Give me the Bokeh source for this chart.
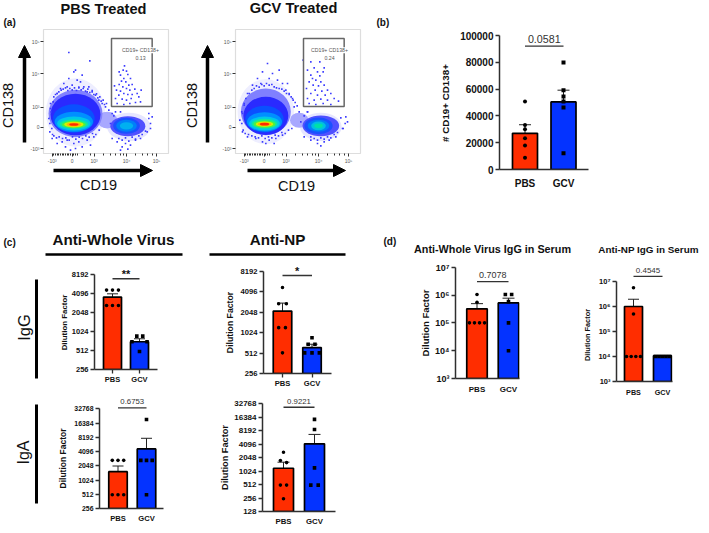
import math
from bokeh.embed import file_html
from bokeh.resources import INLINE
from bokeh.core.properties import value
from bokeh.models import (Range1d, FixedTicker, Whisker, TeeHead, ColumnDataSource,
                          Arrow, NormalHead, Pane)
from bokeh.plotting import figure

FONT = "Liberation Sans"
RED = "#FF2D00"
BLUE = "#0433FF"
DARK = "#2f2f2f"

groups = ["PBS", "GCV"]

# (b) number of CD19+ CD138+ cells
b_means = [27000, 50400]
b_lo = [21000, 41300]
b_hi = [33400, 59200]
b_pbs = [50700, 33300, 30000, 23400, 17900, 8700]
b_pbs_dx = [0, 0, 0, 0, 0, 0]
b_gcv = [79900, 59200, 54500, 50700, 46300, 12200]
b_gcv_dx = [0, 0, 0, 0, 0, 0]
b_ticks = [0, 20000, 40000, 60000, 80000, 100000]

# (c) IgG / IgA dilution factors
c1_means = [3620, 707]
c1_lo = [3195, 640]
c1_hi = [4085, 788]
c1_pbs = [4680, 4680, 4680, 2663, 2663, 2663]
c1_pbs_dx = [-0.22, 0, 0.22, -0.22, 0, 0.22]
c1_gcv = [868, 868, 707, 707, 496]
c1_gcv_dx = [-0.1, 0.12, -0.28, 0.28, 0]
c2_means = [2125, 617]
c2_lo = [1510, 551]
c2_hi = [2780, 690]
c2_pbs = [4720, 2720, 2720, 1210, 1210, 515]
c2_pbs_dx = [0, -0.13, 0.13, -0.13, 0.1, 0]
c2_gcv = [860, 690, 690, 515, 515, 515]
c2_gcv_dx = [0, -0.13, 0.1, -0.25, 0, 0.25]
c3_means = [1533, 4640]
c3_lo = [1130, 1665]
c3_hi = [2025, 7800]
c3_pbs = [2665, 2665, 2665, 500, 500, 500]
c3_pbs_dx = [-0.2, 0, 0.2, -0.2, 0, 0.2]
c3_gcv = [19400, 2665, 2665, 2665, 500]
c3_gcv_dx = [0, -0.2, 0, 0.2, 0]
c4_means = [1178, 4130]
c4_lo = [830, 1780]
c4_hi = [1610, 6700]
c4_pbs = [2680, 1750, 1576, 497, 497, 246]
c4_pbs_dx = [0, -0.1, 0.1, -0.1, 0.1, 0]
c4_gcv = [14500, 8650, 1200, 497, 497]
c4_gcv_dx = [0, 0, 0, -0.12, 0.12]
igg_ticks = [256, 512, 1024, 2048, 4096, 8192]
iga_ticks = [256, 512, 1024, 2048, 4096, 8192, 16384, 32768]
iga_np_ticks = [128, 256, 512, 1024, 2048, 4096, 8192, 16384, 32768]

# (d) serum IgG
d1_means = [320000, 520000]
d1_lo = [178000, 340000]
d1_hi = [490000, 770000]
d1_pbs = [1050000, 550000, 100000, 100000, 100000, 100000]
d1_pbs_dx = [0, 0, -0.24, -0.08, 0.08, 0.24]
d1_gcv = [1050000, 1050000, 580000, 100000, 10000]
d1_gcv_dx = [-0.1, 0.1, 0, 0, 0]
d2_means = [1000000, 10800]
d2_lo = [107000, 10800]
d2_hi = [1950000, 10800]
d2_pbs = [5600000, 500000, 10000, 10000, 10000, 10000]
d2_pbs_dx = [0, 0, -0.24, -0.08, 0.08, 0.24]
d2_gcv = [10000, 10000, 10000, 10000, 10000]
d2_gcv_dx = [-0.24, -0.12, 0, 0.12, 0.24]
d_ticks = [1000, 10000, 100000, 1000000, 10000000]
d_labels = {1000: "10³", 10000: "10⁴", 100000: "10⁵", 1000000: "10⁶", 10000000: "10⁷"}

# significance labels
sig_labels = ["0.0581", "**", "*", "0.6753", "0.9221", "0.7078", "0.4545"]
sig_levels = [92000, 7090, 7080, 34300, 27000, 3050000, 16000000]

# (a) flow plots: density levels (centre x, centre y, width, height, colour)
flow_ticks_x = [35, 95, 161, 258, 348]
flow_ticks_y = [24, 88, 148, 248, 345]
flow_tick_labels_x = ["-10³", "0", "10³", "10⁴", "10⁵"]
flow_tick_labels_y = ["-10³", "0", "10³", "10⁴", "10⁵"]
flow_minor = [40, 45, 50, 55, 60, 65, 70, 75, 80, 85, 90, 100, 105, 110, 130, 150, 190, 210, 225, 240, 250, 285, 305, 320, 335]

pbs_cx = [105, 265, 200, 105, 105, 100, 100, 100, 100, 100, 100, 100, 262, 258, 258, 258]
pbs_cy = [132, 89, 109, 129, 126, 114, 104, 99, 97, 96, 96, 96, 91, 92, 92, 92]
pbs_w = [178, 130, 60, 162, 150, 125, 115, 100, 85, 72, 58, 44, 105, 80, 62, 40]
pbs_h = [205, 85, 50, 142, 125, 85, 60, 42, 28, 22, 16, 12, 60, 48, 36, 22]
pbs_c = ["#eeeeff", "#e6e6ff", "#a8a8ff", "#8080ff", "#2a2aff", "#0a50ff", "#0090ff", "#00c8e8",
         "#10e8a0", "#50f040", "#d8f000", "#ffb000", "#5050ff", "#1a50ff", "#0080f8", "#00b0f0"]
pbs_r = (100, 96, 28, 8)

gcv_cx = [100, 265, 200, 100, 100, 96, 96, 96, 96, 96, 96, 96, 265, 258, 258, 258, 258]
gcv_cy = [134, 89, 109, 134, 122, 112, 104, 99, 98, 97, 97, 97, 92, 92, 92, 92, 92]
gcv_w = [170, 125, 55, 150, 135, 115, 105, 92, 78, 66, 52, 40, 110, 85, 65, 44, 26]
gcv_h = [195, 85, 45, 140, 115, 80, 58, 42, 30, 22, 16, 11, 62, 50, 36, 26, 14]
gcv_c = ["#eeeeff", "#e6e6ff", "#a8a8ff", "#8080ff", "#2a2aff", "#0a50ff", "#0090ff", "#00c8e8",
         "#10e8a0", "#50f040", "#d8f000", "#ffb000", "#5050ff", "#1a50ff", "#0080f8", "#00c0e0", "#00e0a8"]
gcv_r = (96, 97, 28, 8)

pbs_dot_x = [252,248,258,240,262,250,270,243,256,236,265,275,247,258,228,240,268,283,250,262,235,275,290,225,245,258,272,295,302,230,250,268,285,300,236,222,148,85,
             70,85,100,110,120,130,95,60,145,155,165,105,80,50,125,115,140,175,185,195,205,38,30,25,28,35,50,65,75,90,100,115,125,140,150,160,80,105,215,230,245,255,270,285,300,240,262,320,330,335,325,240,215,
             55,62,68,75,82,88,95,102,108,115,122,128,135,142,148,155,160,168,172,178,182,188,192,198,40,45,50,30,32,28,34,36,40,48,56,66,76,86,96,106,116,126,136,146,156,166,176,210,220,225,235,245,255,265,275,285,295,305,315,325,330]
pbs_dot_z = [112,125,128,140,138,150,150,158,160,168,170,168,175,180,185,188,185,182,195,198,200,198,195,210,212,215,210,205,185,225,228,225,222,220,130,172,97,72,
             165,150,130,155,160,175,170,180,175,190,200,125,175,195,140,178,190,215,225,235,245,220,240,270,310,330,345,340,355,365,345,340,355,335,350,325,335,360,330,340,355,345,350,335,330,365,362,310,285,265,255,250,255,
             190,185,182,178,186,180,184,178,186,176,184,180,188,182,192,186,198,196,208,205,218,215,228,225,205,198,195,225,250,285,300,318,322,328,325,330,328,335,325,332,326,330,322,326,315,318,305,285,262,250,330,335,328,338,326,332,322,318,308,270,300]
gcv_dot_x = [235,262,275,245,225,255,235,262,272,250,265,230,242,258,275,222,248,268,285,235,255,278,295,225,245,265,285,305,230,250,272,295,318,240,212,
             105,140,90,75,120,110,135,60,150,165,85,45,160,170,180,35,28,22,30,45,70,90,110,130,150,185,200,215,235,255,275,290,310,330,345,340,225,100,125,265,
             50,58,65,72,80,88,95,102,110,118,125,132,140,148,155,162,170,176,182,188,194,40,35,30,28,32,38,48,58,68,78,88,98,108,118,128,138,148,158,168,178,205,215,225,235,245,255,265,275,285,295,305,315,325,332,338]
gcv_dot_z = [100,100,118,118,125,130,140,142,130,155,160,160,170,172,170,180,185,188,185,195,200,200,195,210,215,212,215,210,225,228,225,228,218,150,95,
             105,125,130,150,135,150,155,170,165,165,165,195,185,195,210,225,250,275,310,325,330,340,335,330,320,235,250,325,335,345,340,335,325,300,280,265,250,345,345,352,
             195,185,180,172,176,168,172,165,170,168,175,178,180,182,188,195,198,205,215,222,232,210,230,255,285,305,315,318,322,325,328,322,330,325,328,320,322,312,315,305,300,280,262,250,325,330,335,328,332,325,328,318,312,268,300,285]


def style_text(size, bold=True, color="#111111"):
    return dict(text_font=value(FONT), text_font_size=f"{size}px",
                text_font_style="bold" if bold else "normal", text_color=color)


children = []

# full page annotation layer, in page pixels
ann = figure(width=709, height=533, x_range=Range1d(0, 709), y_range=Range1d(533, 0),
             output_backend="svg", toolbar_location=None, min_border=0,
             background_fill_color=None, border_fill_color=None, outline_line_color=None,
             styles={"position": "absolute", "left": "0px", "top": "0px"})
ann.axis.visible = False
ann.grid.visible = False


def label(x, y, s, size, bold=True, angle=0.0, align="center"):
    ann.text([x], [y], text=[s], angle=angle, text_align=align, text_baseline="middle",
             **style_text(size, bold))


def rule(x0, y0, x1, y1, w):
    ann.line([x0, x1], [y0, y1], line_color="black", line_width=w)


def arrow(x0, y0, x1, y1):
    ann.add_layout(Arrow(x_start=x0, y_start=y0, x_end=x1, y_end=y1, line_width=3.5, line_color="black",
                         end=NormalHead(size=12, fill_color="black", line_color="black", line_width=1)))


label(103, 8, "PBS Treated", 14.6)
label(293, 7, "GCV Treated", 14.6)
label(3, 22, "(a)", 10, align="left")
label(376, 22, "(b)", 10, align="left")
label(3, 242, "(c)", 10, align="left")
label(383, 241, "(d)", 10, align="left")
label(7, 105, "CD138", 14.5, bold=False, angle=math.pi / 2)
label(191, 105, "CD138", 14.5, bold=False, angle=math.pi / 2)
label(98, 184, "CD19", 14.5, bold=False)
label(296, 185, "CD19", 14.5, bold=False)
arrow(24, 142, 24, 45)
arrow(207, 142, 207, 45)
arrow(53, 170, 152, 170)
arrow(247, 170, 345, 170)
label(113, 239, "Anti-Whole Virus", 15.2)
label(277, 239, "Anti-NP", 15.2)
rule(45, 254, 182, 254, 2.6)
rule(209, 254, 345, 254, 2.6)
rule(36, 279, 36, 378, 3)
rule(36, 404, 36, 503, 3)
label(23, 327, "IgG", 16.5, bold=False, angle=math.pi / 2)
label(23, 452, "IgA", 16, bold=False, angle=math.pi / 2)
label(492, 248, "Anti-Whole Virus IgG in Serum", 10.8)
label(648, 249, "Anti-NP IgG in Serum", 9.9)
children.append(ann)


def flow_panel(xleft, xs, ys, ws, hs, cs, red, dx, dz, gate_pct, tx):
    ml, mb, mt, mr = 22, 16, 2, 2
    fw, fh = 125, 124
    p = figure(width=ml + fw + mr, height=mt + fh + mb, x_range=Range1d(9, 384), y_range=Range1d(9, 381),
               output_backend="svg", toolbar_location=None, min_border_left=ml, min_border_right=mr,
               min_border_top=mt, min_border_bottom=mb, background_fill_color="white",
               border_fill_color=None, outline_line_color="#dddddd", outline_line_width=1.2,
               styles={"position": "absolute", "left": f"{xleft - ml}px", "top": f"{29 - mt}px"})
    p.grid.visible = False
    p.ellipse(x=xs, y=ys, width=ws, height=hs, fill_color=cs, line_color=None)
    p.ellipse(x=[red[0]], y=[red[1]], width=[red[2]], height=[red[3]], fill_color="#ff2a00", line_color=None)
    p.scatter(dx, [384 - v for v in dz], size=1.6, marker="square",
              fill_color="#3a3aff", line_color=None)
    p.quad(left=[213], right=[335], top=[354], bottom=[150], fill_color=None, line_color="#666666", line_width=1.5)
    p.text([tx], [319], text=["CD19+ CD138+"], text_align="center", text_baseline="middle",
           background_fill_color="white", **style_text(5.2, False, "#555555"))
    p.text([tx], [296], text=[gate_pct], text_align="center", text_baseline="middle",
           **style_text(5.2, False, "#555555"))
    for ax, ticks, labels in ((p.xaxis[0], flow_ticks_x, flow_tick_labels_x),
                              (p.yaxis[0], flow_ticks_y, flow_tick_labels_y)):
        ax.ticker = FixedTicker(ticks=ticks, minor_ticks=flow_minor if ax is p.xaxis[0] else [])
        ax.major_label_overrides = dict(zip(ticks, labels))
        ax.major_label_text_font = FONT
        ax.major_label_text_font_size = "5px"
        ax.major_label_text_color = "#555555"
        ax.axis_line_color = None
        ax.major_tick_line_color = "#333333"
        ax.minor_tick_line_color = "#333333"
        ax.major_tick_in = 0
        ax.minor_tick_in = 0
        ax.major_tick_out = 3
        ax.minor_tick_out = 2
        ax.major_label_standoff = 1
    children.append(p)


flow_panel(43, pbs_cx, pbs_cy, pbs_w, pbs_h, pbs_c, pbs_r, pbs_dot_x, pbs_dot_z, "0.13", 300)
flow_panel(235, gcv_cx, gcv_cy, gcv_w, gcv_h, gcv_c, gcv_r, gcv_dot_x, gcv_dot_z, "0.24", 291)


def bar_panel(x_axis, x_right, y_bot, y_tick, frame_top, vmin, vmax, log, c1, c2, bar_w, ticks,
              means, lo, hi, pbs, pbs_dx, gcv, gcv_dx, sig, sig_y, sig_size, sig_bold,
              tick_size, xtick_size, ylabel, ylabel_size, ylabel_xy, xstandoff, overrides,
              cap=13, dot=3.6, bar_lw=1.7, xtick_out=0):
    ml, mr, mb, mt = 70, 2, 24, 0
    fw, fh = x_right - x_axis, y_bot - frame_top
    unit = c2 - c1
    xr = Range1d(1 - (c1 - x_axis) / unit, 1 + (x_right - c1) / unit)
    if log:
        s = (math.log(vmax) - math.log(vmin)) / (y_bot - y_tick)
        top = math.exp(math.log(vmin) + s * fh)
    else:
        top = vmin + (vmax - vmin) / (y_bot - y_tick) * fh
    p = figure(width=ml + fw + mr, height=mt + fh + mb, x_range=xr, y_range=Range1d(vmin, top),
               y_axis_type="log" if log else "linear", output_backend="svg", toolbar_location=None,
               min_border_left=ml, min_border_right=mr, min_border_top=mt, min_border_bottom=mb,
               background_fill_color=None, border_fill_color=None, outline_line_color=None,
               styles={"position": "absolute", "left": f"{x_axis - ml}px", "top": f"{frame_top - mt}px"})
    p.grid.visible = False
    w = bar_w / unit
    p.vbar(x=[1], top=[means[0]], bottom=vmin, width=w, fill_color=RED, line_color="black", line_width=bar_lw)
    p.vbar(x=[2], top=[means[1]], bottom=vmin, width=w, fill_color=BLUE, line_color="black", line_width=bar_lw)
    src = ColumnDataSource(dict(x=[1, 2], lo=lo, hi=hi))
    p.add_layout(Whisker(base="x", lower="lo", upper="hi", source=src, line_color="#222222", line_width=1,
                         upper_head=TeeHead(size=cap, line_color="#222222", line_width=1),
                         lower_head=TeeHead(size=cap, line_color="#222222", line_width=1)))
    p.scatter([1 + d for d in pbs_dx], pbs, marker="circle", size=dot, fill_color="black", line_color=None)
    p.scatter([2 + d for d in gcv_dx], gcv, marker="square", size=dot, fill_color="black", line_color=None)
    p.line([1, 2], [sig_y, sig_y], line_color="#333333", line_width=1.3)
    p.text([1.5], [sig_y], text=[sig], y_offset=1 if sig_bold else -3.5, text_align="center", text_baseline="bottom",
           **style_text(sig_size, sig_bold, "#333333" if not sig_bold else "#111111"))
    yax, xax = p.yaxis[0], p.xaxis[0]
    yax.ticker = FixedTicker(ticks=ticks)
    yax.bounds = (vmin, vmax)
    if overrides:
        yax.major_label_overrides = overrides
    elif log:
        yax.major_label_overrides = {t: str(t) for t in ticks}
    else:
        yax.formatter.use_scientific = False
    xax.ticker = FixedTicker(ticks=[1, 2])
    xax.major_label_overrides = {1: groups[0], 2: groups[1]}
    for ax in (xax, yax):
        ax.axis_line_color = DARK
        ax.axis_line_width = 1.5
        ax.major_tick_line_color = DARK
        ax.major_tick_line_width = 1.3
        ax.major_tick_in = 0
        ax.major_tick_out = 4
        ax.minor_tick_line_color = None
        ax.major_label_text_font = FONT
        ax.major_label_text_font_style = "bold"
        ax.major_label_text_color = "#111111"
    xax.major_tick_out = xtick_out
    if not xtick_out:
        xax.major_tick_line_color = None
    yax.major_label_text_font_size = f"{tick_size}px"
    xax.major_label_text_font_size = f"{xtick_size}px"
    yax.major_label_standoff = 2
    xax.major_label_standoff = xstandoff
    label(ylabel_xy[0], ylabel_xy[1], ylabel, ylabel_size, angle=math.pi / 2)
    children.append(p)


DF = "Dilution Factor"
bar_panel(499, 588, 169, 35, 20, 0, 100000, False, 524.5, 563, 25, b_ticks,
          b_means, b_lo, b_hi, b_pbs, b_pbs_dx, b_gcv, b_gcv_dx, sig_labels[0], sig_levels[0], 10.7, False,
          10, 10, "# CD19+ CD138+", 9.8, (445, 102.5), 8, None, cap=12, dot=4)
bar_panel(94, 157, 369, 274.3, 262, 256, 8192, True, 112, 139, 18, igg_ticks,
          c1_means, c1_lo, c1_hi, c1_pbs, c1_pbs_dx, c1_gcv, c1_gcv_dx, sig_labels[1], sig_levels[1], 11, True,
          7.5, 7.5, DF, 7.9, (64, 322), 1, None, cap=11, xtick_out=4)
bar_panel(263, 331, 373, 270.7, 258, 256, 8192, True, 282, 311.5, 18.5, igg_ticks,
          c2_means, c2_lo, c2_hi, c2_pbs, c2_pbs_dx, c2_gcv, c2_gcv_dx, sig_labels[2], sig_levels[2], 11, True,
          7.6, 7.6, DF, 8.7, (229, 322), 1, None, cap=11, xtick_out=4)
bar_panel(99, 163, 508, 408.3, 392, 256, 32768, True, 117.5, 146, 18.5, iga_ticks,
          c3_means, c3_lo, c3_hi, c3_pbs, c3_pbs_dx, c3_gcv, c3_gcv_dx, sig_labels[3], sig_levels[3], 7.8, False,
          6.9, 7.6, DF, 8.5, (62, 458), 5, None, cap=11)
bar_panel(262, 335, 511, 403, 392, 128, 32768, True, 283, 314, 20, iga_np_ticks,
          c4_means, c4_lo, c4_hi, c4_pbs, c4_pbs_dx, c4_gcv, c4_gcv_dx, sig_labels[4], sig_levels[4], 7.8, False,
          8, 7.8, DF, 9.2, (224, 457), 5, None, cap=12)
bar_panel(455, 519, 378, 266.7, 262, 1000, 10000000, True, 476.5, 508, 20.5, d_ticks,
          d1_means, d1_lo, d1_hi, d1_pbs, d1_pbs_dx, d1_gcv, d1_gcv_dx, sig_labels[5], sig_levels[5], 9, False,
          9, 8, DF, 9.5, (425, 322.5), 6, d_labels, cap=12)
bar_panel(616, 672, 381, 281, 262, 1000, 10000000, True, 633, 662, 18, d_ticks,
          d2_means, d2_lo, d2_hi, d2_pbs, d2_pbs_dx, d2_gcv, d2_gcv_dx, sig_labels[6], sig_levels[6], 8, False,
          7.5, 7.2, DF, 7.4, (587, 334.5), 6, d_labels, cap=11)

root = Pane(elements=children)
open("out.html", "w").write(file_html(root, INLINE))
